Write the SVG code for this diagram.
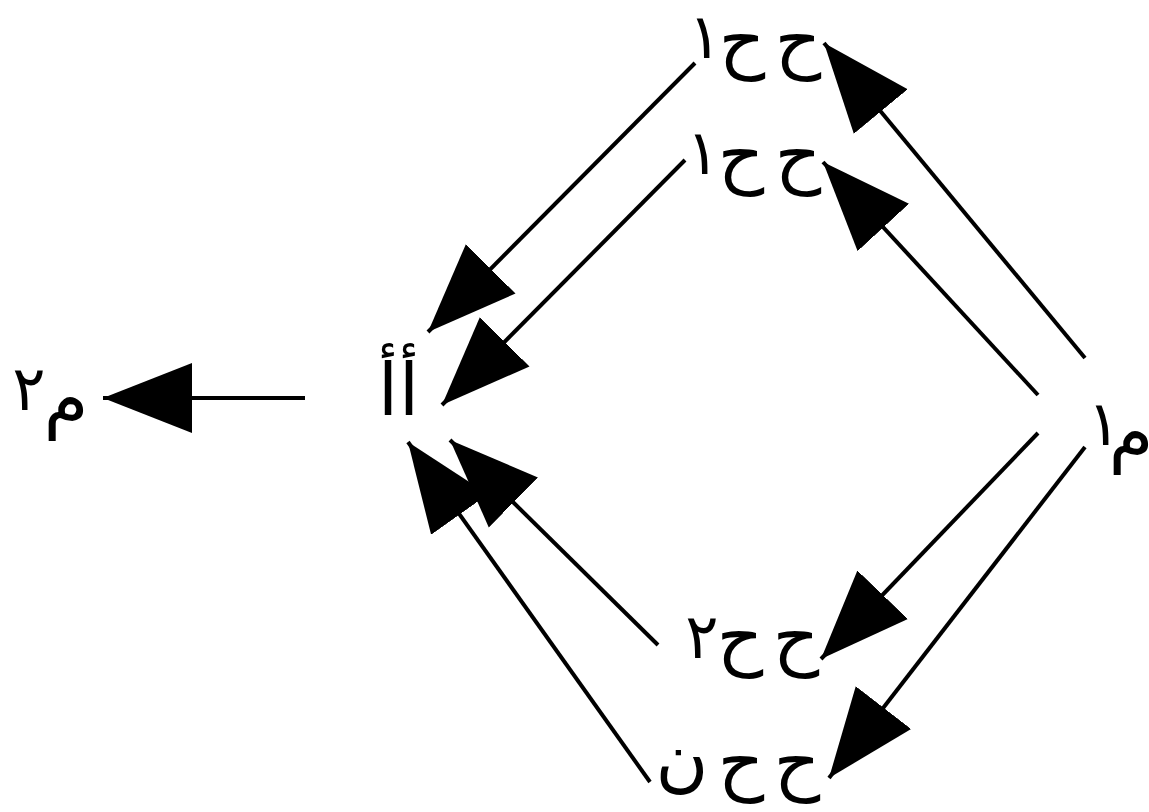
<svg xmlns="http://www.w3.org/2000/svg" width="1149" height="812" viewBox="0 0 1149 812">
<style>
.t{font-family:"DejaVu Sans",sans-serif;font-size:72px;fill:#000;text-anchor:middle}
.d{font-size:62px}
.c{stroke:#000;stroke-width:4;fill:none;marker-end:url(#ah)}
</style>
<defs>
<marker id="ah" markerUnits="userSpaceOnUse" viewBox="0 -36 90 72" refX="89" refY="0" markerWidth="90" markerHeight="72" orient="auto">
<path d="M0,-35 L89,0 L0,35 z" fill="#000"/>
</marker>
</defs>
<rect width="1149" height="812" fill="#fff"/>
<g id="connectors">
<line class="c" x1="305" y1="398" x2="103" y2="398"/>
<line class="c" x1="695" y1="63" x2="428" y2="332"/>
<line class="c" x1="685" y1="160" x2="442" y2="405"/>
<line class="c" x1="1085" y1="358" x2="824" y2="43"/>
<line class="c" x1="1038" y1="395" x2="823" y2="162"/>
<line class="c" x1="1038" y1="433" x2="821" y2="659"/>
<line class="c" x1="1085" y1="447" x2="829" y2="778"/>
<line class="c" x1="658" y1="645" x2="450" y2="440"/>
<line class="c" x1="650" y1="782" x2="408" y2="442"/>
</g>
<g id="node-m2"><text class="t"><tspan class="d" x="29" y="410">٢</tspan><tspan x="66" y="424">م</tspan></text></g>
<g id="node-aa"><text class="t"><tspan x="388" y="415">أ</tspan><tspan x="409" y="415">أ</tspan></text></g>
<g id="node-m1"><text class="t"><tspan class="d" x="1104" y="445">١</tspan><tspan x="1131" y="458">م</tspan></text></g>
<g id="node-hh1a"><text class="t"><tspan class="d" x="705" y="58">١</tspan><tspan x="742" y="64">ح</tspan><tspan x="798" y="64">ح</tspan></text></g>
<g id="node-hh1b"><text class="t"><tspan class="d" x="703" y="174">١</tspan><tspan x="741" y="179">ح</tspan><tspan x="798" y="179">ح</tspan></text></g>
<g id="node-hh2"><text class="t"><tspan class="d" x="702" y="658">٢</tspan><tspan x="740" y="661">ح</tspan><tspan x="796" y="661">ح</tspan></text></g>
<g id="node-hhn"><text class="t"><tspan x="682" y="783">ن</tspan><tspan x="741" y="786">ح</tspan><tspan x="797" y="786">ح</tspan></text></g>
</svg>
